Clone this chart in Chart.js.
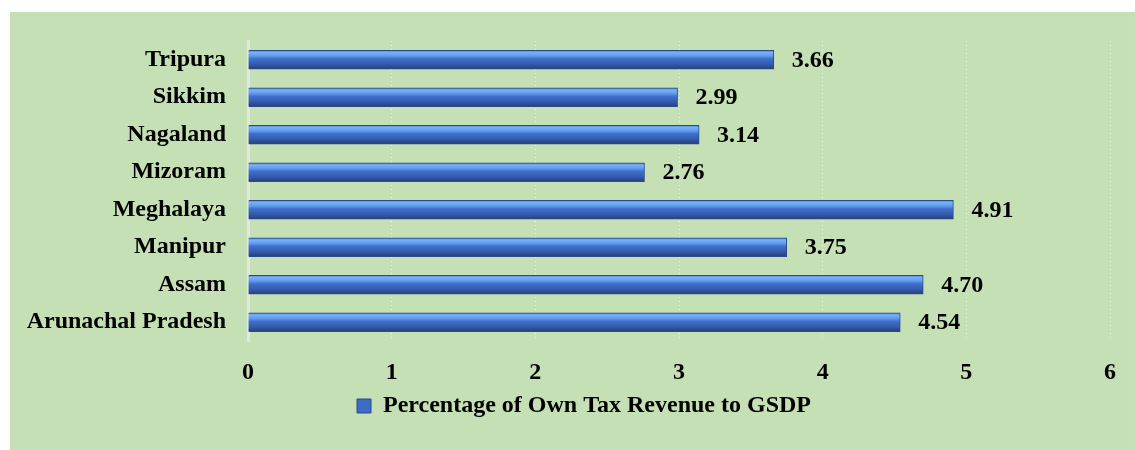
<!DOCTYPE html>
<html>
<head>
<meta charset="utf-8">
<script src="https://cdn.jsdelivr.net/npm/chart.js@4.4.0/dist/chart.umd.min.js"></script>
<style>
  html, body { margin: 0; background: #fff; }
  #wrap { position: absolute; left: 10px; top: 12px; width: 1125px; height: 438px; background: #c5e0b4; }
</style>
</head>
<body>
<div id="wrap"><canvas id="myBarChart"></canvas></div>
<script>
const states = ['Arunachal Pradesh', 'Assam', 'Manipur', 'Meghalaya', 'Mizoram', 'Nagaland', 'Sikkim', 'Tripura'];
const taxShare = [4.54, 4.70, 3.75, 4.91, 2.76, 3.14, 2.99, 3.66];
const xTicks = [0, 1, 2, 3, 4, 5, 6];
const seriesName = 'Percentage of Own Tax Revenue to GSDP';

const serif = "'Liberation Serif', 'Times New Roman', serif";

function shade(ctx, top, bottom) {
  const g = ctx.createLinearGradient(0, top, 0, bottom);
  g.addColorStop(0, '#4a7fd6');
  g.addColorStop(0.12, '#78b2f7');
  g.addColorStop(0.3, '#619aec');
  g.addColorStop(0.45, '#3f71cd');
  g.addColorStop(0.75, '#3459ab');
  g.addColorStop(1, '#243f78');
  return g;
}

// 3D-ish look: gradient across the bar thickness, set once bars are placed
const barShading = {
  id: 'barShading',
  afterLayout(chart) {
    // legend sits a bit right of the canvas centre in the original
    chart.legend.left += 24;
    chart.legend.right += 24;
  },
  beforeDatasetsDraw(chart) {
    const ctx = chart.ctx;
    chart.getDatasetMeta(0).data.forEach(bar => {
      const h = bar.height / 2;
      bar.options = Object.assign({}, bar.options, { backgroundColor: shade(ctx, bar.y - h, bar.y + h) });
    });
  }
};

const barValueLabels = {
  id: 'barValueLabels',
  afterDatasetsDraw(chart) {
    const ctx = chart.ctx;
    const meta = chart.getDatasetMeta(0);
    ctx.save();
    ctx.font = 'bold 24px ' + serif;
    ctx.fillStyle = '#000';
    ctx.textAlign = 'left';
    ctx.textBaseline = 'middle';
    meta.data.forEach((bar, i) => {
      ctx.fillText(taxShare[i].toFixed(2), bar.x + 18, bar.y + 1);
    });
    ctx.restore();
  }
};

function createChart() {
  const ctx = document.getElementById('myBarChart').getContext('2d');
  new Chart(ctx, {
    type: 'bar',
    data: {
      labels: states,
      datasets: [{
        label: seriesName,
        data: taxShare,
        backgroundColor: '#3d6cc4',
        borderColor: '#2b4a86',
        borderWidth: 1,
        barThickness: 19
      }]
    },
    plugins: [barShading, barValueLabels],
    options: {
      indexAxis: 'y',
      responsive: true,
      maintainAspectRatio: false,
      animation: false,
      layout: { padding: { top: 29, right: 25, bottom: 22, left: 0 } },
      scales: {
        x: {
          min: xTicks[0],
          max: xTicks[xTicks.length - 1],
          afterFit: function (scale) { scale.height = 43; },
          ticks: {
            stepSize: 1,
            padding: 17,
            color: '#000',
            font: { family: serif, size: 24, weight: 'bold' }
          },
          grid: { color: 'rgba(255,255,255,0.6)', lineWidth: 1, drawTicks: false },
          border: { display: false, dash: [1, 3] }
        },
        y: {
          reverse: true,
          afterFit: function (scale) {
            scale.width = 238;
            scale.paddingTop = 0;
            scale.paddingBottom = 0;
          },
          ticks: {
            padding: 22,
            color: '#000',
            font: { family: serif, size: 24, weight: 'bold' }
          },
          grid: { display: false, drawTicks: false },
          border: { display: true, color: '#e3e8df', width: 3 }
        }
      },
      plugins: {
        legend: {
          position: 'bottom',
          labels: {
            boxWidth: 14,
            boxHeight: 14,
            color: '#000',
            font: { family: serif, size: 24, weight: 'bold' }
          }
        },
        tooltip: { enabled: false }
      }
    }
  });
}

window.onload = createChart;
</script>
</body>
</html>
